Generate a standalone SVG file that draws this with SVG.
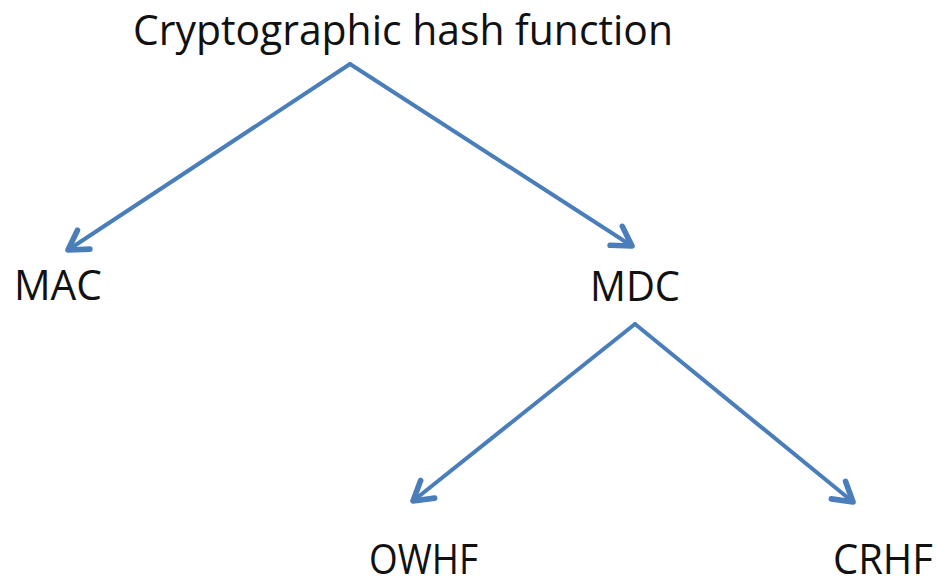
<svg xmlns="http://www.w3.org/2000/svg" width="937" height="585" viewBox="0 0 937 585">
  <style>
    .label { font-family: "Open Sans", "Liberation Sans", sans-serif; font-size: 42px; fill: #111111; }
    .edge { fill: none; stroke: #4A7EBB; stroke-width: 4; stroke-linecap: round; stroke-linejoin: round; }
  </style>
  <defs>
    <marker id="chevron" markerUnits="userSpaceOnUse" markerWidth="30" markerHeight="30" refX="0" refY="0" viewBox="-18 -12 22 24" orient="auto">
      <path d="M -15 -9 L 0 0 L -15 9" fill="none" stroke="#4A7EBB" stroke-width="4.5" stroke-linecap="round" stroke-linejoin="round"/>
    </marker>
  </defs>
  <rect width="937" height="585" fill="#ffffff"/>

  <g id="connectors">
    <line class="edge" x1="350" y1="64" x2="68" y2="250" marker-end="url(#chevron)"/>
    <line class="edge" x1="350" y1="64" x2="632" y2="246" marker-end="url(#chevron)"/>
    <line class="edge" x1="635" y1="324" x2="413" y2="501" marker-end="url(#chevron)"/>
    <line class="edge" x1="635" y1="324" x2="853" y2="502" marker-end="url(#chevron)"/>
  </g>

  <g id="hash">
    <text class="label" x="133" y="45" textLength="540" lengthAdjust="spacingAndGlyphs">Cryptographic hash function</text>
  </g>
  <g id="mac">
    <text class="label" x="14" y="300" textLength="88" lengthAdjust="spacingAndGlyphs">MAC</text>
  </g>
  <g id="mdc">
    <text class="label" x="590" y="301" textLength="90" lengthAdjust="spacingAndGlyphs">MDC</text>
  </g>
  <g id="owhf">
    <text class="label" x="369" y="574" textLength="109" lengthAdjust="spacingAndGlyphs">OWHF</text>
  </g>
  <g id="crhf">
    <text class="label" x="833" y="574" textLength="100" lengthAdjust="spacingAndGlyphs">CRHF</text>
  </g>
</svg>
